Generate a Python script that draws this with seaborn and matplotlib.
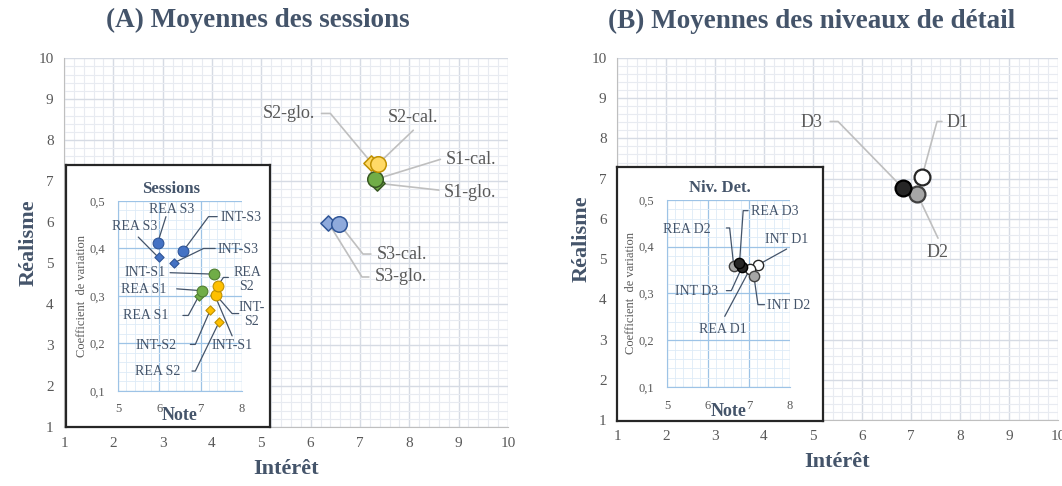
import numpy as np
import pandas as pd
import matplotlib
matplotlib.use("Agg")
import matplotlib.pyplot as plt
from matplotlib.ticker import MultipleLocator, FuncFormatter
import seaborn as sns

# ---- data ----
sessions = ["S1", "S1", "S2", "S2", "S3", "S3"]
calc = ["cal.", "glo.", "cal.", "glo.", "cal.", "glo."]
int_note = [7.31, 7.34, 7.36, 7.23, 6.58, 6.36]
rea_note = [7.04, 6.95, 7.41, 7.45, 5.96, 5.98]
int_cv = [0.346, 0.302, 0.303, 0.270, 0.395, 0.370]
rea_cv = [0.311, 0.299, 0.321, 0.246, 0.412, 0.381]

levels = ["D1", "D2", "D3"]
lvl_int_note = [7.22, 7.12, 6.83]
lvl_rea_note = [7.03, 6.63, 6.77]
lvl_int_cv = [0.361, 0.338, 0.356]
lvl_rea_cv = [0.353, 0.358, 0.365]

df_s = pd.DataFrame({"session": sessions, "calc": calc, "int_note": int_note,
                     "rea_note": rea_note, "int_cv": int_cv, "rea_cv": rea_cv})
df_d = pd.DataFrame({"level": levels, "int_note": lvl_int_note, "rea_note": lvl_rea_note,
                     "int_cv": lvl_int_cv, "rea_cv": lvl_rea_cv})

# long tables for the insets (Note vs coefficient of variation)
ins_s = pd.concat([
    df_s.assign(measure="INT", note=df_s["int_note"], cv=df_s["int_cv"]),
    df_s.assign(measure="REA", note=df_s["rea_note"], cv=df_s["rea_cv"]),
])
ins_d = pd.concat([
    df_d.assign(measure="INT", note=df_d["int_note"], cv=df_d["int_cv"]),
    df_d.assign(measure="REA", note=df_d["rea_note"], cv=df_d["rea_cv"]),
])

# ---- style ----
sns.set_style("white")
plt.rcParams["font.family"] = ["Liberation Serif", "DejaVu Serif"]
TITLE_C = "#44546A"
TXT_C = "#595959"
LEAD_C = "#bfbfbf"
INS_LEAD_C = "#44546A"

main_fill = {"S1": "#70AD47", "S2": "#FFD966", "S3": "#8FAADC"}
main_edge = {"S1": "#385723", "S2": "#BF9000", "S3": "#2F5597"}
ins_fill = {"S1": "#70AD47", "S2": "#FFC000", "S3": "#4472C4"}
ins_edge = {"S1": "#507E32", "S2": "#BF9000", "S3": "#2F5597"}
lvl_fill = {"D1": "#FFFFFF", "D2": "#A6A6A6", "D3": "#262626"}
lvl_edge = {"D1": "#262626", "D2": "#404040", "D3": "#000000"}
markers = {"cal.": "o", "glo.": "D"}

fig = plt.figure(figsize=(10.62, 4.86), dpi=100)


def style_main(ax):
    ax.set_xlim(1, 10)
    ax.set_ylim(1, 10)
    ax.xaxis.set_major_locator(MultipleLocator(1))
    ax.yaxis.set_major_locator(MultipleLocator(1))
    ax.xaxis.set_minor_locator(MultipleLocator(0.2))
    ax.yaxis.set_minor_locator(MultipleLocator(0.2))
    ax.grid(which="major", color="#d6dbe4", lw=1.0)
    ax.grid(which="minor", color="#e8ebf1", lw=0.8)
    ax.set_axisbelow(True)
    for s in ["top", "right"]:
        ax.spines[s].set_visible(False)
    for s in ["left", "bottom"]:
        ax.spines[s].set_color("#bfbfbf")
    ax.tick_params(which="major", direction="out", length=4, color="#bfbfbf",
                   labelsize=11, labelcolor=TXT_C)
    ax.tick_params(which="minor", length=0)


def style_inset(ax, title):
    ax.set_xlim(5, 8)
    ax.set_ylim(0.1, 0.5)
    ax.xaxis.set_major_locator(MultipleLocator(1))
    ax.yaxis.set_major_locator(MultipleLocator(0.1))
    ax.xaxis.set_minor_locator(MultipleLocator(0.2))
    ax.yaxis.set_minor_locator(MultipleLocator(0.02))
    ax.yaxis.set_major_formatter(FuncFormatter(lambda v, p: f"{v:.1f}".replace(".", ",")))
    ax.grid(which="major", color="#9DC3E6", lw=0.9)
    ax.grid(which="minor", color="#DEEBF7", lw=0.6)
    ax.set_axisbelow(True)
    ax.set_facecolor("white")
    for s in ["top", "right"]:
        ax.spines[s].set_visible(False)
    for s in ["left", "bottom"]:
        ax.spines[s].set_color("#9DC3E6")
    ax.tick_params(which="major", direction="out", length=3, color="#9DC3E6",
                   labelsize=9, labelcolor=TXT_C, pad=6)
    ax.tick_params(which="minor", length=0)
    ax.set_title(title, fontsize=12, fontweight="bold", color=TITLE_C, pad=6, x=0.43)


def label_main(ax):
    ax.set_xlabel("Intérêt", fontsize=16, fontweight="bold", color=TITLE_C, labelpad=6)
    ax.set_ylabel("Réalisme", fontsize=16, fontweight="bold", color=TITLE_C, labelpad=0)


def label_inset(ax):
    ax.set_xlabel("Note", fontsize=13, fontweight="bold", color=TITLE_C, labelpad=-6)
    ax.set_ylabel("Coefficient  de variation", fontsize=9, color=TXT_C, labelpad=1)


def frame(rect):
    f = fig.add_axes(rect)
    f.set_xticks([])
    f.set_yticks([])
    f.set_facecolor("white")
    for s in f.spines.values():
        s.set_color("#262626")
        s.set_linewidth(1.6)
    return f


def leader(ax, text, target, tpos, start, elbow=None, ha="left", color=TXT_C,
           lcolor=LEAD_C, fs=13, lw=1.2):
    pts = [start] + ([elbow] if elbow is not None else []) + [target]
    xs, ys = zip(*pts)
    ax.plot(xs, ys, color=lcolor, lw=lw, zorder=2, clip_on=False)
    ax.text(tpos[0], tpos[1], text, ha=ha, va="center", fontsize=fs, color=color,
            clip_on=False, zorder=5, linespacing=1.1)


def pt(df, i, xcol="int_note", ycol="rea_note"):
    return (df[xcol].iloc[i], df[ycol].iloc[i])


def ipt(df, i, m):
    key = "int" if m == "INT" else "rea"
    return (df[key + "_note"].iloc[i], df[key + "_cv"].iloc[i])


# ================= panel A =================
axA = fig.add_axes([0.0603, 0.1214, 0.418, 0.759])
style_main(axA)
for s in ["S1", "S2", "S3"]:
    sub = df_s[df_s["session"] == s]
    sub_c = sub[sub["calc"] == "cal."]
    sub_g = sub[sub["calc"] == "glo."]
    sns.scatterplot(data=sub_g, x="int_note", y="rea_note", marker="D", s=60,
                    color=main_fill[s], edgecolor=main_edge[s], linewidth=1.1,
                    ax=axA, zorder=3, legend=False)
    sns.scatterplot(data=sub_c, x="int_note", y="rea_note", marker="o", s=125,
                    color=main_fill[s], edgecolor=main_edge[s], linewidth=1.1,
                    ax=axA, zorder=4, legend=False)
label_main(axA)

leader(axA, "S2-glo.", pt(df_s, 3), (6.08, 8.65), (6.22, 8.65), (6.40, 8.65), ha="right")
leader(axA, "S2-cal.", pt(df_s, 2), (8.08, 8.56), (8.08, 8.24), ha="center")
leader(axA, "S1-cal.", pt(df_s, 0), (8.73, 7.52), (8.63, 7.53))
leader(axA, "S1-glo.", pt(df_s, 1), (8.69, 6.71), (8.60, 6.78))
leader(axA, "S3-cal.", pt(df_s, 4), (7.33, 5.22), (7.22, 5.22), (7.06, 5.22))
leader(axA, "S3-glo.", pt(df_s, 5), (7.29, 4.66), (7.18, 4.66), (7.04, 4.66))

# inset A
frame([0.0621, 0.1214, 0.192, 0.539])
insA = fig.add_axes([0.1111, 0.1955, 0.1168, 0.391])
style_inset(insA, "Sessions")
for s in ["S1", "S2", "S3"]:
    for c, sz in [("glo.", 22), ("cal.", 60)]:
        sub = ins_s[(ins_s["session"] == s) & (ins_s["calc"] == c)]
        sns.scatterplot(data=sub, x="note", y="cv", marker=markers[c], s=sz,
                        color=ins_fill[s], edgecolor=ins_edge[s], linewidth=0.8,
                        ax=insA, zorder=4 if c == "cal." else 3, legend=False)
label_inset(insA)

kw = dict(lcolor=INS_LEAD_C, fs=10, lw=0.9, color="#44546A")
leader(insA, "REA S3", ipt(df_s, 4, "REA"), (6.30, 0.482), (6.16, 0.467), ha="center", **kw)
leader(insA, "REA S3", ipt(df_s, 5, "REA"), (5.41, 0.447), (5.49, 0.424), ha="center", **kw)
leader(insA, "INT-S3", ipt(df_s, 4, "INT"), (7.49, 0.465), (7.40, 0.467), (7.19, 0.467), **kw)
leader(insA, "INT-S3", ipt(df_s, 5, "INT"), (7.41, 0.398), (7.35, 0.400), (7.07, 0.400), **kw)
leader(insA, "INT-S1", ipt(df_s, 0, "INT"), (6.16, 0.349), (6.26, 0.349), ha="right", **kw)
leader(insA, "REA S1", ipt(df_s, 0, "REA"), (6.18, 0.314), (6.42, 0.315), ha="right", **kw)
leader(insA, "REA S1", ipt(df_s, 1, "REA"), (5.66, 0.258), (6.57, 0.259), (6.70, 0.259), ha="center", **kw)
leader(insA, "REA\nS2", ipt(df_s, 2, "REA"), (8.12, 0.335), (7.67, 0.339), (7.55, 0.339), ha="center", **kw)
leader(insA, "INT-\nS2", ipt(df_s, 2, "INT"), (8.24, 0.261), (7.92, 0.263), (7.76, 0.263), ha="center", **kw)
leader(insA, "INT-S1", ipt(df_s, 1, "INT"), (7.76, 0.196), (7.76, 0.216), ha="center", **kw)
leader(insA, "INT-S2", ipt(df_s, 3, "INT"), (5.93, 0.196), (6.75, 0.198), (6.87, 0.198), ha="center", **kw)
leader(insA, "REA S2", ipt(df_s, 3, "REA"), (5.97, 0.142), (6.79, 0.142), (6.87, 0.142), ha="center", **kw)

# ================= panel B =================
axB = fig.add_axes([0.581, 0.1358, 0.4153, 0.745])
style_main(axB)
for lv in levels:
    sub = df_d[df_d["level"] == lv]
    sns.scatterplot(data=sub, x="int_note", y="rea_note", marker="o", s=130,
                    color=lvl_fill[lv], edgecolor=lvl_edge[lv], linewidth=1.6,
                    ax=axB, zorder=3, legend=False)
label_main(axB)

leader(axB, "D3", pt(df_d, 2), (5.20, 8.40), (5.35, 8.42), (5.51, 8.42), ha="right")
leader(axB, "D1", pt(df_d, 0), (7.73, 8.40), (7.63, 8.42), (7.53, 8.42))
leader(axB, "D2", pt(df_d, 1), (7.55, 5.16), (7.55, 5.52), ha="center")

# inset B
frame([0.581, 0.1337, 0.194, 0.5226])
insB = fig.add_axes([0.628, 0.2037, 0.1158, 0.385])
style_inset(insB, "Niv. Det.")
for lv in levels:
    sub = ins_d[ins_d["level"] == lv]
    sns.scatterplot(data=sub, x="note", y="cv", marker="o", s=55,
                    color=lvl_fill[lv], edgecolor=lvl_edge[lv], linewidth=1.0,
                    ax=insB, zorder=3, legend=False)
label_inset(insB)

leader(insB, "REA D3", ipt(df_d, 2, "REA"), (7.06, 0.475), (6.98, 0.477), (6.86, 0.477), **kw)
leader(insB, "REA D2", ipt(df_d, 1, "REA"), (5.49, 0.436), (6.45, 0.440), (6.53, 0.440), ha="center", **kw)
leader(insB, "INT D1", ipt(df_d, 0, "INT"), (7.93, 0.415), (7.92, 0.395), ha="center", **kw)
leader(insB, "INT D3", ipt(df_d, 2, "INT"), (5.72, 0.304), (6.45, 0.306), (6.57, 0.306), ha="center", **kw)
leader(insB, "INT D2", ipt(df_d, 1, "INT"), (7.43, 0.274), (7.38, 0.276), (7.22, 0.276), **kw)
leader(insB, "REA D1", ipt(df_d, 0, "REA"), (6.37, 0.222), (6.41, 0.251), ha="center", **kw)

# titles
fig.text(0.243, 0.958, "(A) Moyennes des sessions", ha="center", va="center",
         fontsize=19.5, fontweight="bold", color=TITLE_C)
fig.text(0.764, 0.955, "(B) Moyennes des niveaux de détail", ha="center", va="center",
         fontsize=19.5, fontweight="bold", color=TITLE_C)

fig.savefig("out.png", dpi=100)
